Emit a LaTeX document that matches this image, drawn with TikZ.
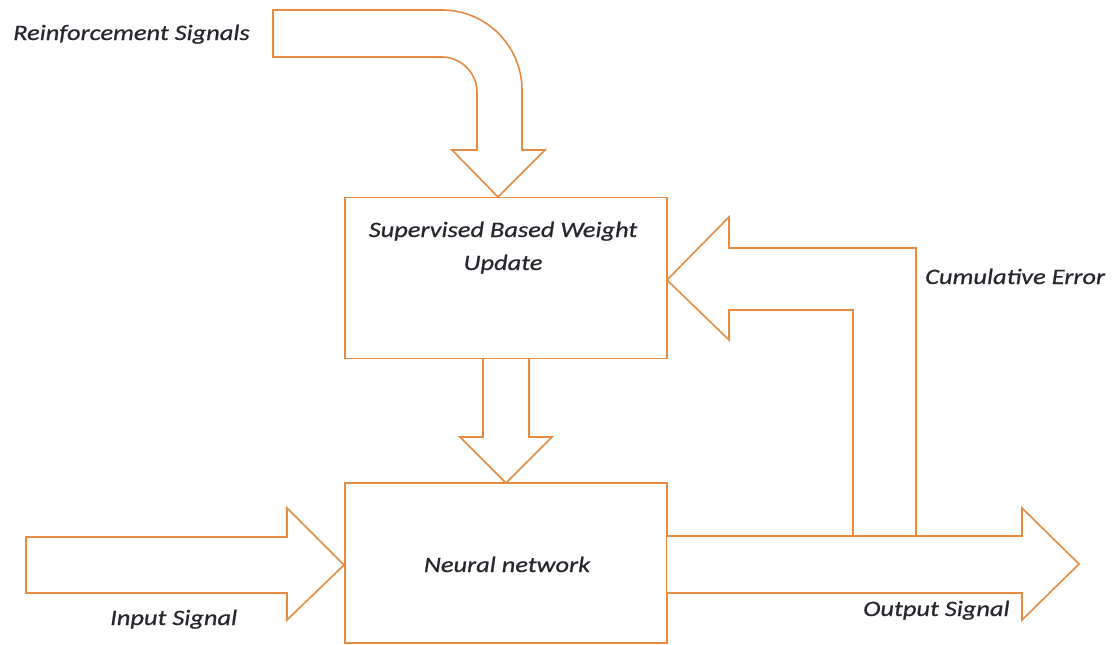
\documentclass[tikz,border=0pt]{standalone}
\usepackage{fontspec}
\setmainfont{Carlito}[FakeStretch=1.2,FakeBold=0.7]
\definecolor{orl}{RGB}{232,138,64}
\definecolor{txt}{RGB}{38,38,45}
\begin{document}
\begin{tikzpicture}[x=1pt,y=-1pt,
  blk/.style={draw=orl,line width=1.6pt,line join=miter,fill=white},
  boxnode/.style={draw=orl,line width=1.6pt,fill=white,minimum width=322pt,minimum height=161pt,inner sep=0pt,align=center,font=\fontsize{22}{33}\selectfont\itshape,text=txt},
  lbl/.style={font=\fontsize{22}{26}\selectfont\itshape,text=txt,inner sep=0pt,anchor=base west}]
\useasboundingbox (0,0) rectangle (1114,645);
% boxes
\node[boxnode] (sup) at (506,278) {};
\node[boxnode,minimum height=160pt] (nn) at (506,563) {};
\node[font=\fontsize{22}{33}\selectfont\itshape,text=txt,align=center,inner sep=0pt,anchor=base] (suptxt) at (503,270) {Supervised Based Weight\\Update};
\node[lbl,anchor=base] (nntxt) at (507,572) {Neural network};
% reinforcement arrow
\draw[blk] (273,10) -- (442,10) .. controls (486,10) and (522,46) .. (522,90)
  -- (522,150) -- (545,150) -- (498,197) -- (452,150) -- (477,150) -- (477,92)
  .. controls (477,73) and (461,57) .. (442,57) -- (273,57) -- cycle;
% down arrow
\draw[blk] (483,359) -- (483,437) -- (460,437) -- (506,483) -- (552,437) -- (529,437) -- (529,359);
% input arrow
\draw[blk] (26,537) -- (287,537) -- (287,508) -- (344,565) -- (287,620) -- (287,593) -- (26,593) -- cycle;
% output arrow
\draw[blk] (667,536) -- (1022,536) -- (1022,508) -- (1079,564) -- (1022,620) -- (1022,593) -- (667,593);
% feedback arrow
\draw[blk,fill=none] (916,536) -- (916,248) -- (729,248) -- (729,217) -- (667,280) -- (729,340) -- (729,310) -- (853,310) -- (853,536);
% labels
\node[lbl] (rs) at (13,40) {Reinforcement Signals};
\node[lbl] (ce) at (925,284) {Cumulative Error};
\node[lbl] (is) at (110,625) {Input Signal};
\node[lbl] (os) at (863,616) {Output Signal};
\end{tikzpicture}
\end{document}
